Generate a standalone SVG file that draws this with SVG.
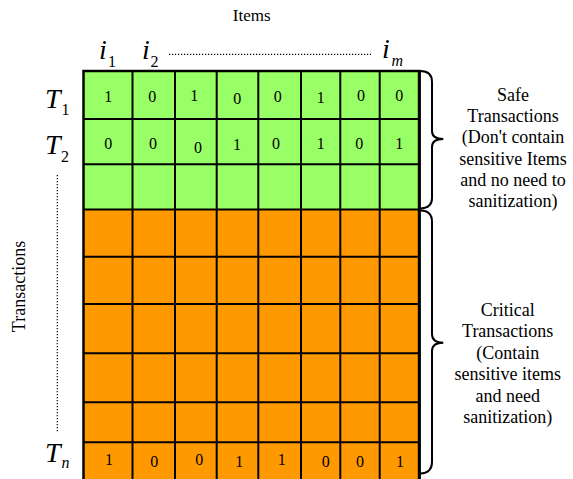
<svg xmlns="http://www.w3.org/2000/svg" width="573" height="479" viewBox="0 0 573 479">
<style>
text{font-family:"Liberation Serif","Times New Roman",serif;fill:#000}
.big{font-size:28px;font-style:italic}
.sub{font-size:16px;font-style:italic}
.subn{font-size:16px}
.d{font-size:16px;text-anchor:middle}
.lab{font-size:18px;text-anchor:middle}
.g{stroke:#000;stroke-width:2;fill:none}
.dot{stroke:#000;stroke-width:1.2;stroke-dasharray:1.2 1.8;fill:none}
.br{stroke:#000;stroke-width:2;fill:none}
</style>
<rect width="573" height="479" fill="#fff"/>
<g id="grid">
<rect x="83.5" y="71" width="336" height="138.5" fill="#99FF66"/>
<rect x="83.5" y="209.5" width="336" height="270" fill="#FF9900"/>
<path class="g" d="M132.5,71V479M175,71V479M216.7,71V479M258.3,71V479M301,71V479M340.3,71V479M379.7,71V479"/>
<path class="g" d="M83.5,119H419.3M83.5,164.3H419.3M83.5,209.5H419.3M83.5,256.7H419.3M83.5,304H419.3M83.5,353.3H419.3M83.5,402.3H419.3M83.5,442.3H419.3"/>
<path d="M83.5,480V71H419.3V480" fill="none" stroke="#000" stroke-width="2.5"/>
<path d="M419.3,70V479" stroke="#000" stroke-width="3"/>
</g>
<g id="cells">
<text class="d" x="108.3" y="101.7">1</text>
<text class="d" x="152.3" y="101.7">0</text>
<text class="d" x="194.3" y="100.5">1</text>
<text class="d" x="237.3" y="104.3">0</text>
<text class="d" x="277.7" y="101.7">0</text>
<text class="d" x="320.7" y="103.3">1</text>
<text class="d" x="361" y="101">0</text>
<text class="d" x="399.3" y="101">0</text>
<text class="d" x="108.3" y="148.7">0</text>
<text class="d" x="153" y="148.7">0</text>
<text class="d" x="198" y="152.5">0</text>
<text class="d" x="237" y="150">1</text>
<text class="d" x="276" y="148.7">0</text>
<text class="d" x="320.7" y="148.7">1</text>
<text class="d" x="359.3" y="148.7">0</text>
<text class="d" x="399.3" y="148.7">1</text>
<text class="d" x="109" y="465">1</text>
<text class="d" x="154.3" y="466.7">0</text>
<text class="d" x="199.3" y="465">0</text>
<text class="d" x="239.3" y="466.7">1</text>
<text class="d" x="281.7" y="465">1</text>
<text class="d" x="325.7" y="466.7">0</text>
<text class="d" x="360" y="466.7">0</text>
<text class="d" x="400" y="466.7">1</text>
</g>
<g id="axis-items">
<text class="lab" x="251.7" y="20.7" style="font-size:17px">Items</text>
<text class="big" x="99" y="58.5">i</text><text class="subn" x="108" y="67">1</text>
<text class="big" x="142" y="58.5">i</text><text class="subn" x="150.5" y="67">2</text>
<text class="big" x="382" y="57.5">i</text><text class="sub" x="391.5" y="65.5">m</text>
<path class="dot" d="M169,54.3H371"/>
</g>
<g id="axis-transactions">
<text class="lab" transform="translate(25,286.5) rotate(-90)" x="0" y="0" style="font-size:18px">Transactions</text>
<text class="big" x="45" y="107.7">T</text><text class="subn" x="61.5" y="115">1</text>
<text class="big" x="45" y="154">T</text><text class="subn" x="61" y="161.7">2</text>
<text class="big" x="45" y="461.7">T</text><text class="sub" x="61.5" y="468.3">n</text>
<path class="dot" d="M57.3,175V432"/>
</g>
<g id="connectors">
<path class="br" d="M420.5,71Q432,71 432,82L432,131Q432,139 443.3,139Q432,139 432,147L432,198Q432,208 420.5,208.5"/>
<path class="br" d="M420.5,210.5Q432,210.5 432,222L432,334Q432,342.7 443.3,342.7Q432,342.7 432,351L432,462Q432,473 420.5,473.5"/>
</g>
<g id="safe-label">
<text class="lab" x="513" y="101">Safe</text>
<text class="lab" x="513" y="122">Transactions</text>
<text class="lab" x="513" y="143">(Don't contain</text>
<text class="lab" x="513" y="164.5">sensitive Items</text>
<text class="lab" x="513" y="185.5">and no need to</text>
<text class="lab" x="513" y="206.5">sanitization)</text>
</g>
<g id="critical-label">
<text class="lab" x="507.7" y="316">Critical</text>
<text class="lab" x="507.7" y="337">Transactions</text>
<text class="lab" x="507.7" y="359">(Contain</text>
<text class="lab" x="507.7" y="380">sensitive items</text>
<text class="lab" x="507.7" y="401.5">and need</text>
<text class="lab" x="507.7" y="422.5">sanitization)</text>
</g>
</svg>
